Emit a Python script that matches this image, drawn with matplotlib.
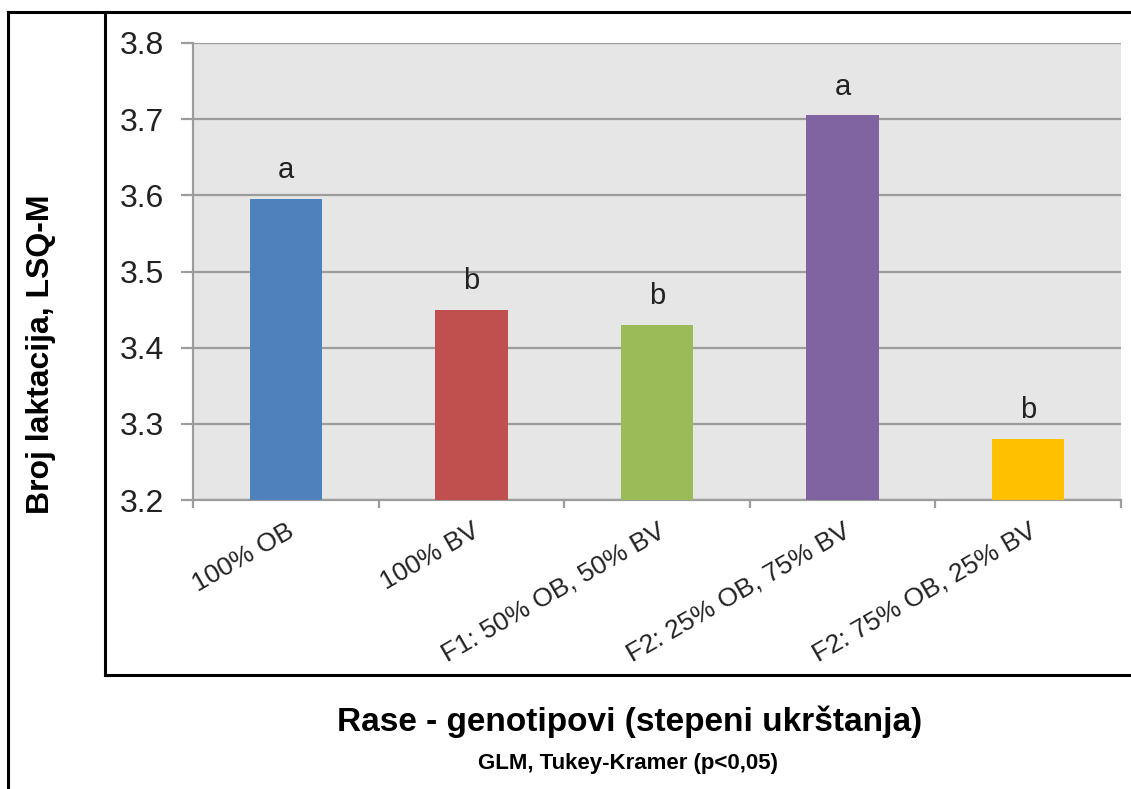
import matplotlib
matplotlib.use("Agg")
import matplotlib.pyplot as plt
from matplotlib.lines import Line2D
import matplotlib.transforms as mtransforms

categories = ["100% OB", "100% BV", "F1: 50% OB, 50% BV", "F2: 25% OB, 75% BV", "F2: 75% OB, 25% BV"]
values = [3.595, 3.45, 3.43, 3.705, 3.28]
letters = ["a", "b", "b", "a", "b"]
colors = ["#4f81bd", "#c0504d", "#9bbb59", "#8064a2", "#ffc000"]
yticks = [3.2, 3.3, 3.4, 3.5, 3.6, 3.7, 3.8]
ylabel = "Broj laktacija, LSQ-M"
xlabel = "Rase - genotipovi (stepeni ukrštanja)"
note = "GLM, Tukey-Kramer (p<0,05)"

plt.rcParams['font.family'] = ['Liberation Sans', 'DejaVu Sans']

W, H = 1131, 789
fig = plt.figure(figsize=(W / 100, H / 100), dpi=100)

def px(x, y):
    return x / W, 1 - y / H

# axes placement (pixels)
ax_l, ax_r, ax_t, ax_b = 193, 1121, 43, 500
ax = fig.add_axes([ax_l / W, 1 - ax_b / H, (ax_r - ax_l) / W, (ax_b - ax_t) / H])
ax.set_facecolor("#e6e6e6")

xs = list(range(len(categories)))
ax.bar(xs, [v - yticks[0] for v in values], bottom=yticks[0], width=0.39,
       color=colors, zorder=3)
ax.set_xlim(-0.5, len(categories) - 0.5)
ax.set_ylim(yticks[0], yticks[-1])
ax.set_yticks(yticks)
ax.set_yticklabels([f"{t:.1f}" for t in yticks], fontsize=23, color="#222222")
ax.yaxis.grid(True, color="#9c9c9c", linewidth=1.6, zorder=1)
ax.tick_params(axis='y', length=9, width=1.6, color="#9c9c9c", pad=12)

# x ticks at category boundaries
ax.set_xticks([i - 0.5 for i in range(len(categories) + 1)])
ax.set_xticklabels([])
ax.tick_params(axis='x', length=6, width=1.6, color="#9c9c9c")

for s in ["top", "right"]:
    ax.spines[s].set_visible(False)
for s in ["left", "bottom"]:
    ax.spines[s].set_color("#9c9c9c")
    ax.spines[s].set_linewidth(1.6)

# rotated category labels
off = mtransforms.ScaledTranslation(0, -19 / 100, fig.dpi_scale_trans)
for i, cat in enumerate(categories):
    ax.text(i, 0, cat, transform=ax.get_xaxis_transform() + off, rotation=30,
            rotation_mode='anchor', ha='right', va='top', fontsize=19, color="#222222")

# significance letters
for i, (v, L) in enumerate(zip(values, letters)):
    ax.annotate(L, (i, v), xytext=(0, 15), textcoords='offset points',
                ha='center', va='baseline', fontsize=21, color="#222222")

# frames
lw = 2.2
fig.add_artist(Line2D([8 / W, 1], [1 - 12 / H] * 2, color='black', lw=lw, transform=fig.transFigure))
fig.add_artist(Line2D([8 / W] * 2, [0, 1 - 12 / H], color='black', lw=lw, transform=fig.transFigure))
fig.add_artist(Line2D([105 / W] * 2, [1 - 675 / H, 1 - 12 / H], color='black', lw=lw, transform=fig.transFigure))
fig.add_artist(Line2D([105 / W, 1], [1 - 675 / H] * 2, color='black', lw=lw, transform=fig.transFigure))

# labels
x0, y0 = px(41, 354)
fig.text(x0, y0, ylabel, rotation=90, ha='center', va='center', fontsize=23, fontweight='bold')
x1, y1 = px(630, 731)
fig.text(x1, y1, xlabel, ha='center', va='baseline', fontsize=24, fontweight='bold')
x2, y2 = px(628, 769)
fig.text(x2, y2, note, ha='center', va='baseline', fontsize=16, fontweight='bold')

fig.savefig("out.png", dpi=100, facecolor='white')
